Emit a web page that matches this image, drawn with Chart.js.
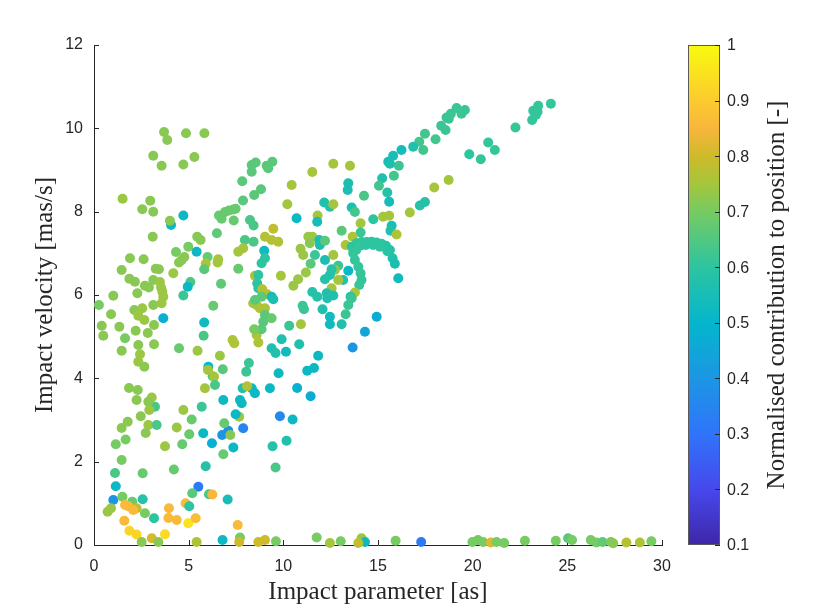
<!DOCTYPE html>
<html><head><meta charset="utf-8">
<script src="https://cdn.jsdelivr.net/npm/chart.js@4.4.0/dist/chart.umd.min.js"></script>
<style>html,body{margin:0;padding:0;background:#fff;}#wrap{width:830px;height:611px;}</style>
</head><body>
<div id="wrap"><canvas id="c" width="830" height="611"></canvas></div>
<script>
// Impact parameter [as]
const impactParameter = [
3.70,3.87,4.86,5.83,3.13,3.57,4.72,5.30,1.51,2.97,
2.55,3.13,4.72,4.07,4.01,3.10,5.45,5.63,4.33,4.98,
5.42,1.90,2.62,4.63,4.49,4.77,6.00,5.90,5.82,6.56,
6.53,1.46,3.26,3.43,4.19,1.87,2.16,2.69,2.90,3.13,
3.48,3.54,3.61,1.02,2.29,3.66,4.72,5.09,4.95,6.71,
7.62,6.49,6.60,6.74,6.92,7.13,7.36,7.48,7.38,7.83,
7.87,8.33,8.33,8.54,9.12,9.20,9.42,8.46,8.82,8.24,
8.43,7.97,8.43,9.03,9.47,9.38,9.73,7.62,7.88,8.99,
9.03,8.85,8.50,8.68,8.62,8.68,8.89,9.15,9.38,9.87,
19.59,19.41,19.15,18.85,18.74,18.62,18.34,18.57,17.48,18.04,
17.18,17.39,16.86,16.24,15.80,15.54,15.63,16.10,19.82,20.43,
15.22,15.05,15.84,15.49,15.59,12.64,13.52,11.53,10.44,10.21,
13.43,13.40,14.26,12.16,12.46,12.64,13.61,13.78,10.70,11.81,
11.79,14.75,15.27,15.59,16.68,17.21,17.48,17.97,18.73,14.08,
14.08,13.08,15.72,15.66,15.98,11.32,11.53,10.91,11.05,11.40,
11.90,11.93,12.20,13.29,13.66,
13.61,13.87,14.13,14.40,14.66,14.93,15.19,15.42,15.63,15.77,15.89,16.07,
13.69,13.78,13.96,14.08,14.13,14.01,
13.85,14.05,14.35,14.75,15.10,15.50,
12.64,12.20,11.67,11.44,12.90,12.72,13.43,12.55,12.46,13.16,
12.20,12.90,11.19,10.78,10.53,12.55,12.29,12.64,11.53,11.79,
13.78,13.55,
12.32,13.61,11.02,11.09,12.07,13.43,13.29,12.46,12.46,13.08,
14.93,14.31,13.66,10.93,10.31,9.91,10.84,10.14,11.84,11.62,
11.26,9.75,10.73,11.44,10.49,9.82,10.17,
11.76,12.46,13.03,14.13,14.31,13.96,15.93,17.28,19.99,20.28,
0.26,0.90,0.41,0.49,1.34,1.64,1.46,2.13,2.34,2.55,
2.66,2.20,2.84,3.17,3.13,2.34,2.43,2.34,2.66,3.17,
3.57,3.66,6.30,5.82,5.79,4.49,5.47,6.65,7.32,7.41,
8.18,8.04,8.68,8.59,8.41,8.59,8.76,9.03,8.50,8.85,
9.03,8.94,8.85,8.46,9.47,9.38,9.38,9.59,9.29,8.50,
8.33,7.85,8.09,7.71,7.80,6.83,5.69,6.04,6.27,6.02,
6.34,6.39,5.86,6.80,3.22,3.05,2.87,2.92,2.47,2.87,
2.73,3.31,1.78,1.46,1.67,1.85,2.31,2.25,1.15,1.46,
1.11,1.15,1.02,1.50,0.72,0.90,2.02,1.81,2.25,2.07,
1.64,2.57,2.69,3.17,1.60,1.87,2.25,2.52,3.05,3.40,
3.75,3.96,3.93,4.37,4.84,5.03,4.98,5.37,5.51,5.19,
6.07,6.25,7.06,7.59,4.22,2.57,5.90,6.83,7.36,6.23,
6.77,7.09,7.20,7.88,6.88,7.67,7.48,5.77,5.16,4.72,
4.37,5.03,3.75,4.66,9.43,9.59,5.42,6.79,7.71,7.67,
8.68,9.03,9.61,
24.13,23.46,23.20,23.43,23.34,23.14,22.26,20.82,21.17,
20.55,20.96,21.26,21.66,22.76,24.39,25.04,25.25,26.24,26.54,
26.86,27.30,27.42,28.12,28.83,29.44
];
// Impact velocity [mas/s]
const impactVelocity = [
9.91,9.72,9.88,9.88,9.34,9.10,9.13,9.31,8.31,8.26,
8.06,8.00,7.91,7.68,7.78,7.40,7.40,7.32,7.03,7.16,
7.04,6.88,6.86,6.84,6.78,6.91,6.91,6.75,6.62,6.86,
6.78,6.60,6.63,6.62,6.52,6.39,6.32,6.22,6.18,6.36,
6.31,6.18,6.08,5.98,6.04,5.96,5.99,6.31,6.20,6.27,
6.63,7.48,7.91,7.83,7.99,8.03,8.05,8.07,7.79,8.73,
8.27,8.96,9.12,9.18,9.10,9.04,9.20,8.40,8.54,7.80,
7.67,7.32,7.28,7.40,7.59,7.32,7.28,7.04,7.12,7.06,
6.88,6.76,6.46,6.48,6.28,6.16,6.14,6.02,5.96,6.46,
10.44,10.35,10.49,10.35,10.23,10.26,10.06,9.96,9.87,9.74,
9.68,9.48,9.56,9.48,9.34,9.20,9.15,9.10,9.38,9.26,
8.80,8.62,8.86,8.46,8.24,9.15,9.10,8.95,8.64,8.18,
8.68,8.52,8.38,8.22,8.12,8.18,8.10,7.99,7.84,7.91,
7.76,7.82,7.88,7.90,7.98,8.15,8.23,8.58,8.76,7.72,
7.50,7.54,7.66,7.54,7.45,7.40,7.40,7.11,6.96,7.24,
7.32,7.20,7.30,7.20,7.40,
7.16,7.24,7.27,7.27,7.28,7.26,7.23,7.18,7.08,6.88,6.75,6.40,
7.00,6.84,6.68,6.52,6.36,6.24,
7.08,7.18,7.20,7.20,7.16,7.05,
6.96,6.84,6.96,6.75,6.70,6.60,6.58,6.62,6.48,6.36,
6.38,6.36,6.54,6.38,6.22,6.16,6.04,5.99,6.07,5.96,
6.06,5.96,
5.92,5.92,5.74,5.66,5.66,5.76,5.54,5.48,5.30,5.30,
5.48,5.12,4.74,5.30,5.26,4.94,4.82,4.64,4.54,4.25,
4.18,4.12,3.77,3.57,3.01,3.09,2.50,
0.18,0.05,0.09,0.16,0.07,0.05,0.10,0.07,0.07,0.12,
5.76,5.54,5.26,5.02,5.24,4.96,4.66,5.64,5.50,5.68,
5.40,5.14,5.09,5.28,5.76,4.80,4.58,4.40,4.28,4.82,
5.80,5.44,5.74,5.34,5.02,4.72,4.66,4.54,4.92,4.84,
4.37,4.16,4.86,5.04,5.80,5.76,5.68,5.68,5.88,5.96,
5.52,5.36,5.18,5.18,5.90,5.44,4.72,4.61,3.76,3.64,
3.76,3.76,3.81,3.48,3.40,3.48,3.32,4.28,4.05,4.20,
4.04,3.84,3.76,4.22,3.32,3.54,3.44,3.24,3.09,2.88,
2.69,2.88,2.96,2.81,2.53,3.77,3.72,3.48,2.42,2.04,
1.73,1.41,1.08,1.16,0.80,0.88,1.04,0.93,0.88,0.84,
0.96,1.10,0.76,0.64,0.58,0.34,0.25,0.07,0.16,0.07,
0.26,0.88,0.65,0.60,1.00,0.93,0.52,0.64,1.40,1.24,
1.22,1.21,1.09,0.48,1.81,1.72,1.89,2.18,2.34,2.44,
2.64,2.74,2.64,2.80,2.92,3.08,3.14,2.68,3.01,3.24,
2.82,2.66,2.37,2.42,2.37,1.86,0.07,0.12,0.18,0.07,
0.07,0.12,0.09,
10.59,10.54,10.42,10.40,10.32,10.20,10.02,9.66,9.48,
0.07,0.06,0.07,0.05,0.10,0.10,0.16,0.12,0.12,0.06,
0.07,0.07,0.04,0.06,0.06,0.09
];
// Normalised contribution to position [-]
const contribution = [
.72,.72,.72,.72,.72,.72,.72,.72,.74,.72,.72,.72,
.52,.52,.72,.72,.72,.72,.70,.70,.52,
.72,.72,.72,.72,.72,.68,.76,.66,.75,.75,
.72,.72,.72,.74,.72,.72,.72,.72,.72,.74,.74,.74,
.72,.72,.74,.62,.64,.52,.67,
.68,.67,.68,.68,.68,.68,.68,.68,.68,
.66,.66,.66,.66,.66,.66,.66,.66,.66,.66,
.64,.64,.64,.64,
.77,.78,.77,.77,
.75,.75,.53,
.60,.60,.77,.60,.60,.60,.77,.77,.53,.75,
.62,.62,.62,.62,.62,.62,.62,.62,
.63,.63,.63,.63,
.57,.54,.55,.55,.56,.62,.60,.61,
.57,.63,.63,.58,.54,.75,.75,.75,.75,.75,
.56,.56,.64,.57,.57,.75,.56,.63,.52,.75,
.55,.60,.75,.75,.75,.58,.58,.75,.75,.75,
.62,.66,.55,.57,.76,.74,.74,.74,.74,.72,
.56,.56,.66,.76,.76,
.60,.60,.60,.60,.60,.60,.60,.59,.58,.57,.56,.53,
.61,.61,.61,.61,.61,.61,
.61,.61,.60,.60,.60,.59,
.75,.56,.62,.66,.62,.74,.52,.58,.58,.58,
.58,.75,.74,.74,.74,.75,.57,.57,.58,.58,
.76,.57,
.57,.62,.62,.62,.57,.62,.62,.53,.53,.57,
.47,.45,.40,.75,.62,.57,.57,.53,.52,.52,
.52,.52,.48,.47,.52,.36,.57,
.70,.75,.70,.74,.52,.78,.70,.32,.70,.70,
.70,.72,.72,.72,.72,.70,.72,.72,.74,.74,
.74,.72,.72,.72,.72,.72,.74,.74,.72,.72,
.74,.48,.68,.53,.64,.68,.74,.74,.76,.76,
.62,.62,.76,.76,.76,.76,.76,.76,.66,.66,
.66,.66,.66,.70,.56,.68,.57,.57,.52,.52,
.52,.57,.77,.52,.52,.52,.62,.52,.62,.75,
.75,.64,.75,.66,.64,.74,.72,.74,.72,.74,
.72,.64,.72,.72,.70,.72,.72,.72,.70,.70,
.64,.52,.40,.70,.74,.74,.68,.86,.78,.86,
.86,.58,.70,.60,.86,.92,.92,.72,.81,.72,
.93,.86,.86,.86,.86,.60,.95,.87,.32,.66,
.64,.85,.55,.86,.68,.68,.58,.68,.52,.48,
.40,.38,.72,.35,.68,.74,.52,.52,.68,.74,
.74,.68,.74,.68,.58,.64,.76,.52,.70,.80,
.80,.80,.70,
.61,.61,.61,.61,.61,.61,.61,.61,.61,
.70,.82,.70,.70,.70,.70,.66,.70,.70,.70,
.67,.70,.72,.77,.76,.70
];
const xTickValues = [0,5,10,15,20,25,30];
const yTickValues = [0,2,4,6,8,10,12];
const cbTickValues = [0.1,0.2,0.3,0.4,0.5,0.6,0.7,0.8,0.9,1];
const xLabel = 'Impact parameter [as]';
const yLabel = 'Impact velocity [mas/s]';
const cbLabel = 'Normalised contribution to position [-]';

// parula-like colormap anchors (value -> rgb)
const parulaStops = [
 [0.10,[62,38,168]],[0.20,[71,72,236]],[0.30,[48,116,250]],[0.40,[28,150,228]],
 [0.50,[4,182,204]],[0.60,[45,196,160]],[0.70,[118,203,98]],[0.75,[165,198,60]],
 [0.80,[206,186,42]],[0.85,[248,182,60]],[0.90,[252,202,46]],[1.00,[249,251,14]]
];
const cbMin = cbTickValues[0], cbMax = cbTickValues[cbTickValues.length-1];
function parula(v){
  v = Math.max(cbMin, Math.min(cbMax, v));
  for (let i=1;i<parulaStops.length;i++){
    const [v1,c1]=parulaStops[i-1],[v2,c2]=parulaStops[i];
    if (v<=v2){
      const t=(v-v1)/(v2-v1);
      return 'rgb('+c1.map((a,k)=>Math.round(a+(c2[k]-a)*t)).join(',')+')';
    }
  }
  return 'rgb('+parulaStops[parulaStops.length-1][1].join(',')+')';
}

const points = impactParameter.map((x,i)=>({x:x,y:impactVelocity[i]}));
const colors = contribution.map(parula);

const AX = '#262626';
const LEFT = 94, RIGHT = 662, TOP = 45, BOTTOM = 545;
const CB_X0 = 688, CB_X1 = 720;
const SANS = '"Liberation Sans", Arial, sans-serif';
const SERIF = '"Liberation Serif", "DejaVu Serif", serif';

// inward tick marks (MATLAB style)
const innerTicksPlugin = {
  id:'innerTicks',
  beforeDatasetsDraw(chart){
    const ctx = chart.ctx, xs = chart.scales.x, ys = chart.scales.y, a = chart.chartArea;
    ctx.save();
    ctx.strokeStyle = AX; ctx.lineWidth = 1;
    ctx.beginPath();
    xTickValues.forEach(v=>{
      const px = Math.round(xs.getPixelForValue(v))+0.5;
      ctx.moveTo(px, a.bottom); ctx.lineTo(px, a.bottom-5);
    });
    yTickValues.forEach(v=>{
      const py = Math.round(ys.getPixelForValue(v))+0.5;
      ctx.moveTo(a.left, py); ctx.lineTo(a.left+5, py);
    });
    ctx.stroke();
    ctx.restore();
  }
};

const colorbarPlugin = {
  id:'colorbar',
  afterDraw(chart){
    const ctx = chart.ctx, a = chart.chartArea;
    const top = a.top, bottom = a.bottom;
    const yOf = v => bottom - (v-cbMin)/(cbMax-cbMin)*(bottom-top);
    ctx.save();
    const g = ctx.createLinearGradient(0,bottom,0,top);
    parulaStops.forEach(([v,c])=>g.addColorStop((v-cbMin)/(cbMax-cbMin),'rgb('+c.join(',')+')'));
    ctx.fillStyle = g;
    ctx.fillRect(CB_X0, top, CB_X1-CB_X0, bottom-top);
    ctx.strokeStyle = '#5a5a5a'; ctx.lineWidth = 1;
    ctx.strokeRect(CB_X0+0.5, top+0.5, CB_X1-CB_X0-1, bottom-top-1);
    ctx.strokeStyle = AX;
    ctx.fillStyle = AX;
    ctx.font = '16px ' + SANS;
    ctx.textAlign = 'left'; ctx.textBaseline = 'middle';
    cbTickValues.forEach(v=>{
      const y = Math.round(yOf(v))+0.5;
      ctx.beginPath(); ctx.moveTo(CB_X1-5,y); ctx.lineTo(CB_X1,y); ctx.stroke();
      ctx.fillText(String(v), CB_X1+7, yOf(v)+1);
    });
    ctx.translate(777, (top+bottom)/2);
    ctx.rotate(-Math.PI/2);
    ctx.textAlign = 'center';
    ctx.font = '25px ' + SERIF;
    ctx.fillText(cbLabel, 0, 0);
    ctx.restore();
  }
};

new Chart(document.getElementById('c'), {
  type:'scatter',
  data:{datasets:[{
    data:points,
    pointBackgroundColor:colors,
    pointBorderWidth:0,
    pointRadius:5,
    pointHoverRadius:5,
    clip:false
  }]},
  options:{
    responsive:false,
    animation:false,
    devicePixelRatio:1,
    layout:{padding:{left:0,top:TOP,right:830-RIGHT,bottom:0}},
    plugins:{legend:{display:false},tooltip:{enabled:false}},
    scales:{
      x:{
        type:'linear', min:xTickValues[0], max:xTickValues[xTickValues.length-1],
        afterBuildTicks(s){ s.ticks = xTickValues.map(v=>({value:v})); },
        afterFit(s){ s.height = 611-BOTTOM; },
        grid:{display:false, drawOnChartArea:false, drawTicks:false, tickLength:0},
        border:{display:true, color:AX, width:1},
        ticks:{color:AX, padding:12, font:{family:SANS, size:16}, maxRotation:0},
        title:{display:true, text:xLabel, color:AX, font:{family:SERIF, size:25}, padding:{top:0,bottom:4}}
      },
      y:{
        type:'linear', min:yTickValues[0], max:yTickValues[yTickValues.length-1],
        afterBuildTicks(s){ s.ticks = yTickValues.map(v=>({value:v})); },
        afterFit(s){ s.width = LEFT; },
        grid:{display:false, drawOnChartArea:false, drawTicks:false, tickLength:0},
        border:{display:true, color:AX, width:1},
        ticks:{color:AX, padding:11, font:{family:SANS, size:16}},
        title:{display:true, text:yLabel, color:AX, font:{family:SERIF, size:25}, padding:{top:30,bottom:0}}
      }
    }
  },
  plugins:[innerTicksPlugin, colorbarPlugin]
});
</script>
</body></html>
